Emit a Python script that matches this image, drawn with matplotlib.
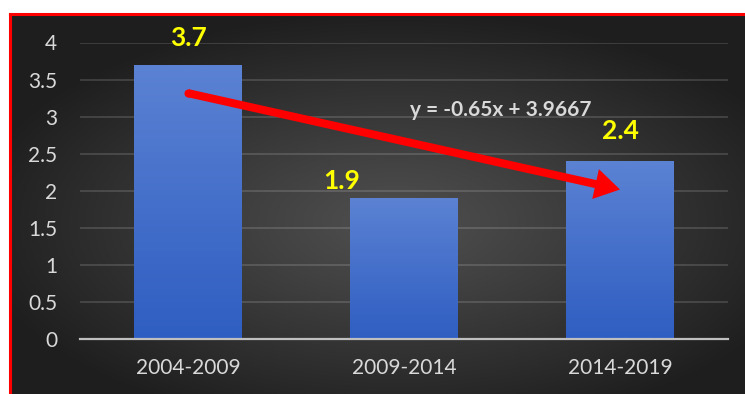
"""bar chart of period averages with a linear trend arrow, dark radial backdrop"""
import matplotlib
import numpy as np

matplotlib.use("Agg")
import matplotlib.pyplot as plt  # noqa: E402
from matplotlib.patches import FancyArrowPatch  # noqa: E402

periods = ["2004-2009", "2009-2014", "2014-2019"]
values = [3.7, 1.9, 2.4]
y_ticks = [0, 0.5, 1, 1.5, 2, 2.5, 3, 3.5, 4]
y_tick_labels = ["0", "0.5", "1", "1.5", "2", "2.5", "3", "3.5", "4"]
trend_slope = -0.65
trend_intercept = 3.9667
trend_label = "y = -0.65x + 3.9667"

plt.rcParams["font.family"] = ["Lato", "DejaVu Sans"]

fig = plt.figure(figsize=(7.45, 3.94), dpi=100, facecolor="white")

# dark radial backdrop with red frame on top and left
bg = fig.add_axes([9.5 / 745, 0, 735.5 / 745, 380.5 / 394])
yy, xx = np.mgrid[-1:1:300j, -1:1:600j]
r = np.sqrt(((xx - 0.05) * 0.95) ** 2 + ((yy - 0.1) * 1.0) ** 2)
shade = np.clip(0.31 - 0.17 * r ** 1.1, 0.12, 0.32)
bg.imshow(np.dstack([shade] * 3), aspect="auto", extent=[0, 1, 0, 1])
bg.set_xlim(0, 1)
bg.set_ylim(0, 1)
bg.set_xticks([])
bg.set_yticks([])
for side in ("right", "bottom"):
    bg.spines[side].set_visible(False)
for side in ("top", "left"):
    bg.spines[side].set_color("#ff0000")
    bg.spines[side].set_linewidth(2.2)

ax = fig.add_axes([80 / 745, 55 / 394, 648 / 745, 296.5 / 394])
ax.patch.set_visible(False)
x = np.arange(len(periods))
bars = ax.bar(x, values, width=0.5, color="#4472c4", zorder=2)

# vertical blue gradient inside each bar
grad = np.linspace(0, 1, 256).reshape(-1, 1)
top = np.array([0x5b, 0x82, 0xd3]) / 255
bot = np.array([0x2f, 0x5e, 0xc2]) / 255
cols = top * (1 - grad[..., None]) + bot * grad[..., None]
for b in bars:
    im = ax.imshow(cols, aspect="auto", zorder=3,
                   extent=[b.get_x(), b.get_x() + b.get_width(), 0, b.get_height()])
    im.set_clip_path(b)

# value labels were nudged by hand around the arrow
label_dx = [0.0, -0.29, 0.0]
label_dy = [0.36, 0.23, 0.40]
for xi, v, dx, dy in zip(x, values, label_dx, label_dy):
    ax.text(xi + dx, v + dy, f"{v}", ha="center", va="center", color="#ffff00",
            fontsize=19, fontweight="bold", zorder=5)

ax.set_xlim(-0.5, 2.5)
ax.set_ylim(0, 4)
ax.set_yticks(y_ticks)
ax.set_yticklabels(y_tick_labels)
ax.set_xticks(x)
ax.set_xticklabels(periods)
ax.tick_params(length=0, colors="#d9d9d9", labelsize=15)
ax.tick_params(axis="y", pad=16.5)
ax.tick_params(axis="x", pad=14)
ax.grid(axis="y", color="white", alpha=0.14, lw=1.4, zorder=0)
ax.set_axisbelow(True)
for side in ("top", "right", "left"):
    ax.spines[side].set_visible(False)
ax.spines["bottom"].set_color("#bfbfbf")
ax.spines["bottom"].set_linewidth(1.6)
ax.spines["bottom"].set_zorder(4)

# trend line y = a*n + b for n = 1..3, drawn as an arrow
t0 = trend_slope * 1 + trend_intercept
t1 = trend_slope * 3 + trend_intercept
arrow = FancyArrowPatch((0, t0), (2, t1),
                        arrowstyle="simple,head_length=0.9,head_width=1.1,tail_width=0.29",
                        mutation_scale=20, color="#ff0000", lw=0, shrinkA=0, shrinkB=0,
                        zorder=6, clip_on=False)
ax.add_patch(arrow)
ax.plot([0], [t0], "o", ms=5.8, color="#ff0000", mew=0, zorder=6, clip_on=False)
ax.text(1.45, 3.09, trend_label, ha="center", va="center", color="#d9d9d9",
        fontsize=15, fontweight="bold", zorder=5)

fig.savefig("out.png", dpi=100, facecolor="white")
